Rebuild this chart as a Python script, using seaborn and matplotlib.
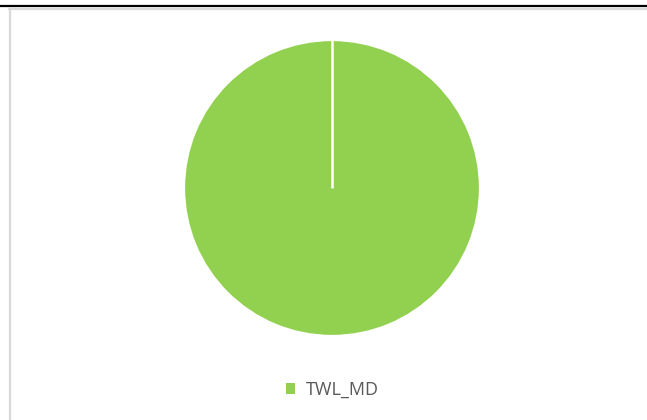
import matplotlib
matplotlib.use('Agg')
import matplotlib.pyplot as plt
import seaborn as sns
import numpy as np
from matplotlib.lines import Line2D

labels = ['TWL_MD']
values = [100]
colors = ['#92D050']
start_angle = 90

sns.set_theme(style='white')
plt.rcParams['font.family'] = ['Open Sans', 'DejaVu Sans']

W, H = 647, 420
fig = plt.figure(figsize=(W / 100, H / 100), dpi=100)

# frame lines (px -> figure fraction)
fig.add_artist(Line2D([0, 1], [1 - 5.5 / H, 1 - 5.5 / H], color='black', lw=1.6))
fig.add_artist(Line2D([9 / W, 1], [1 - 8.5 / H, 1 - 8.5 / H], color='#d9d9d9', lw=1.6))
fig.add_artist(Line2D([10 / W, 10 / W], [0, 1 - 7.5 / H], color='#d9d9d9', lw=1.6))

cx, cy, r = 332, 188, 148
ax = fig.add_axes([(cx - r) / W, (H - cy - r) / H, 2 * r / W, 2 * r / H])
wedges, _ = ax.pie(values, colors=colors, startangle=start_angle, counterclock=False,
                   wedgeprops=dict(edgecolor='white', linewidth=1.6))
# a full-circle wedge drops its radial edge, draw the slice border
a = np.deg2rad(start_angle)
ax.plot([0, np.cos(a)], [0, np.sin(a)], color='white', lw=1.8, solid_capstyle='butt')
ax.set_xlim(-1.0, 1.0)
ax.set_ylim(-1.0, 1.0)
ax.set_aspect('auto')
ax.axis('off')

leg = fig.legend(wedges, labels, loc='center', bbox_to_anchor=(332 / W, 1 - 390 / H),
                 frameon=False, fontsize=13, handlelength=0.5, handleheight=0.5,
                 handletextpad=0.6, labelcolor='#595959')
for h in leg.legend_handles:
    h.set_edgecolor('none')

fig.savefig('out.png', dpi=100)
